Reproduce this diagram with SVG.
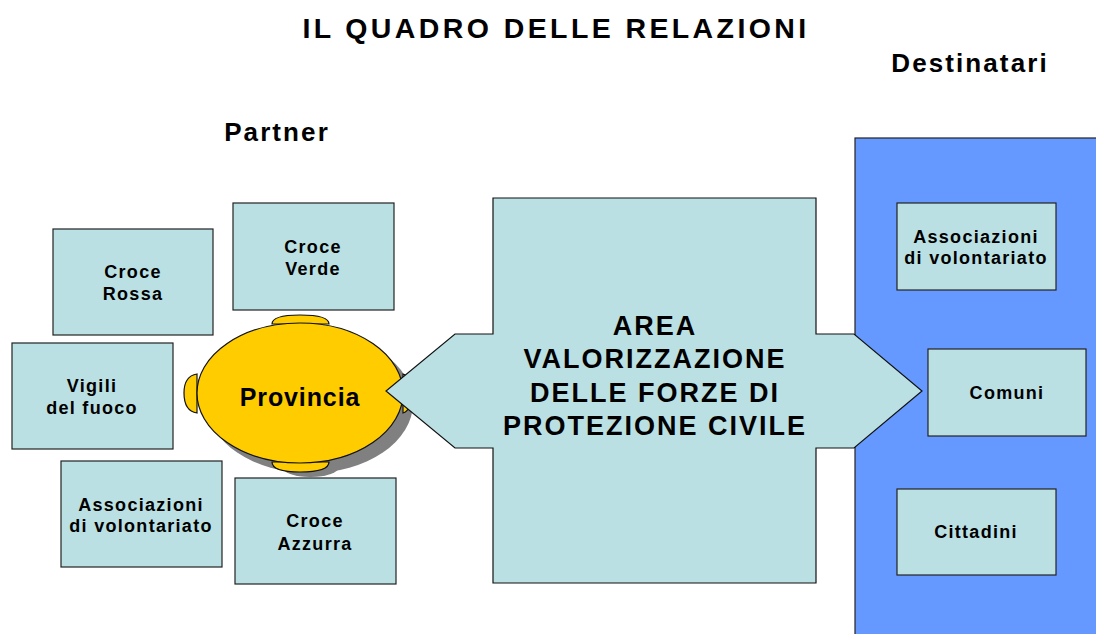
<svg xmlns="http://www.w3.org/2000/svg" width="1096" height="634" viewBox="0 0 1096 634">
<style>
text{font-family:"Liberation Sans",Arial,sans-serif;font-weight:bold;fill:#000;text-anchor:middle}
.box{fill:#BBE0E3;stroke:#222;stroke-width:1.2}
.bt{font-size:18px;letter-spacing:1.3px}
.hd{font-size:26px;letter-spacing:2.1px}
.ct{font-size:27px;letter-spacing:2px}
.tbl{fill:#FFCC00;stroke:#111;stroke-width:1.2}
</style>
<rect width="1096" height="634" fill="#fff"/>
<g id="title"><text x="556" y="38" style="font-size:28.5px;letter-spacing:3.4px">IL QUADRO DELLE RELAZIONI</text></g>
<g id="destinatari-label"><text x="970" y="72" class="hd">Destinatari</text></g>
<g id="partner-label"><text x="277" y="141" class="hd">Partner</text></g>
<g id="destinatari-area"><rect x="855" y="138" width="250" height="510" fill="#6699FF" stroke="#222" stroke-width="1.2"/></g>
<g id="provincia">
<ellipse cx="310" cy="403" rx="103" ry="70" fill="#808080"/>
<rect x="282" y="455" width="57" height="22" rx="28" ry="10" fill="#808080"/>
<path class="tbl" d="M272,324 Q272,315 300,315 Q329,315 329,324 Z"/>
<path class="tbl" d="M272,462 Q272,472 300,472 Q329,472 329,462 Z"/>
<path class="tbl" d="M197,374 Q184,376 184,393 Q184,411 197,413 Z"/>
<path class="tbl" d="M403,374 Q411,376 411,393 Q411,411 403,413 Z"/>
<ellipse class="tbl" cx="300" cy="393" rx="103" ry="70"/>
<text x="300" y="406" style="font-size:25px;letter-spacing:0.9px">Provincia</text>
</g>
<g id="area">
<path d="M493,198 H816 V334 H854 L922,391 L854,448 H816 V583 H493 V448 H455 L386,391 L455,334 H493 Z" fill="#BBE0E3" stroke="#111" stroke-width="1.2"/>
<text x="655" y="335" class="ct">AREA</text>
<text x="655" y="368" class="ct">VALORIZZAZIONE</text>
<text x="655" y="402" class="ct">DELLE FORZE DI</text>
<text x="655" y="435" class="ct">PROTEZIONE CIVILE</text>
</g>
<g id="croce-rossa"><rect class="box" x="53" y="229" width="160" height="106"/><text class="bt" x="133" y="278">Croce</text><text class="bt" x="133" y="300">Rossa</text></g>
<g id="vigili"><rect class="box" x="12" y="343" width="161" height="106"/><text class="bt" x="92" y="392">Vigili</text><text class="bt" x="92" y="414">del fuoco</text></g>
<g id="croce-verde"><rect class="box" x="233" y="203" width="161" height="107"/><text class="bt" x="313" y="253">Croce</text><text class="bt" x="313" y="275">Verde</text></g>
<g id="associazioni-partner"><rect class="box" x="61" y="461" width="161" height="106"/><text class="bt" x="141" y="511">Associazioni</text><text class="bt" x="141" y="532">di volontariato</text></g>
<g id="croce-azzurra"><rect class="box" x="235" y="478" width="161" height="106"/><text class="bt" x="315" y="527">Croce</text><text class="bt" x="315" y="550">Azzurra</text></g>
<g id="associazioni-dest"><rect class="box" x="897" y="203" width="159" height="87"/><text class="bt" x="976" y="243">Associazioni</text><text class="bt" x="976" y="264">di volontariato</text></g>
<g id="comuni"><rect class="box" x="928" y="349" width="158" height="87"/><text class="bt" x="1007" y="399">Comuni</text></g>
<g id="cittadini"><rect class="box" x="897" y="489" width="159" height="86"/><text class="bt" x="976" y="538">Cittadini</text></g>
<g id="connectors"/>
</svg>
